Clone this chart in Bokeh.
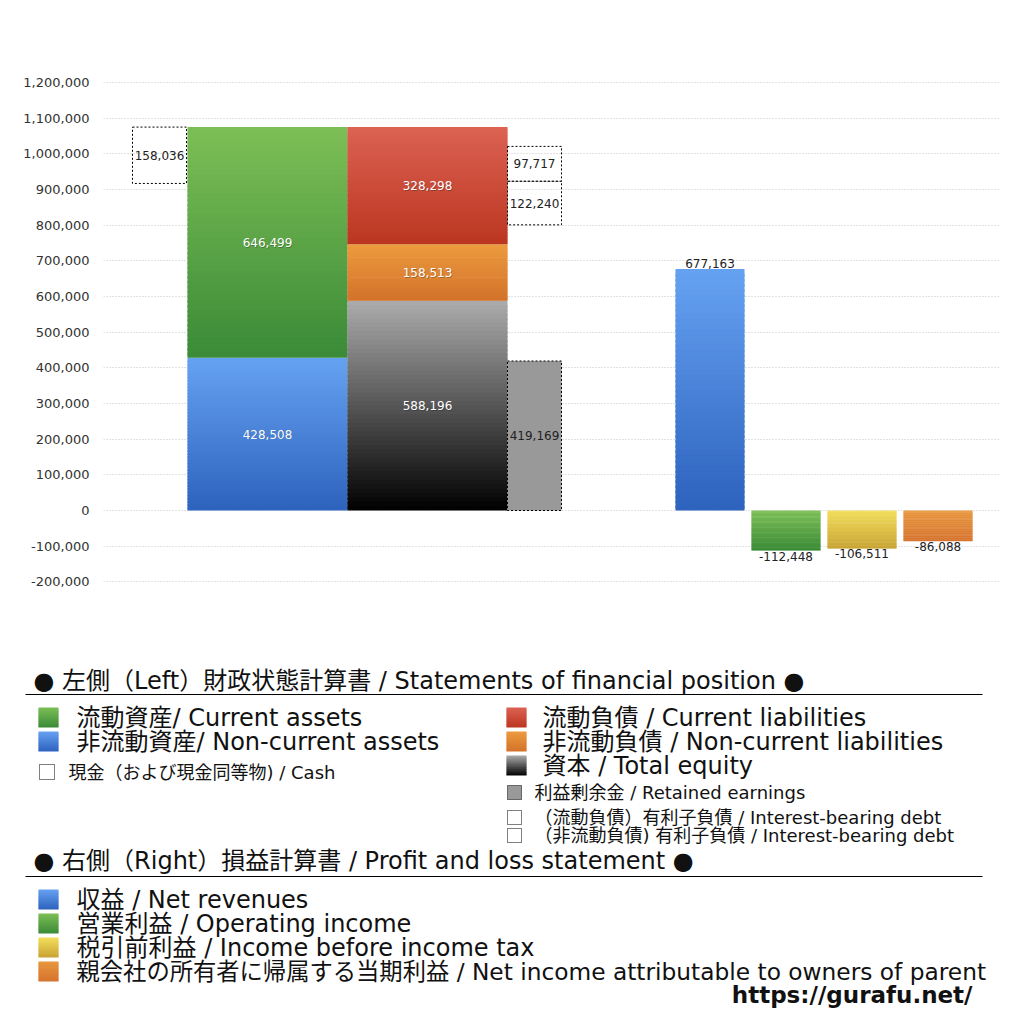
from bokeh.plotting import figure
from bokeh.models import Range1d, FixedTicker, NumeralTickFormatter
from bokeh.layouts import column
from bokeh.core.properties import value
from bokeh.embed import file_html
from bokeh.resources import INLINE

# ---------------- data ----------------
current_assets = 646499
noncurrent_assets = 428508
cash = 158036
current_liabilities = 328298
noncurrent_liabilities = 158513
total_equity = 588196
retained_earnings = 419169
ib_debt_current = 97717
ib_debt_noncurrent = 122240

pl_names = ["収益", "営業利益", "税引前利益", "親会社の所有者に帰属する当期利益"]
pl_values = [677163, -112448, -106511, -86088]

y_ticks = [-200000, -100000, 0, 100000, 200000, 300000, 400000, 500000, 600000,
           700000, 800000, 900000, 1000000, 1100000, 1200000]

header_left = "● 左側（Left）財政状態計算書 / Statements of financial position ●"
header_right = "● 右側（Right）損益計算書 / Profit and loss statement ●"
legend_left_big = ["流動資産/ Current assets", "非流動資産/ Non-current assets"]
legend_cash = "現金（および現金同等物) / Cash"
legend_right_big = ["流動負債 /  Current liabilities", "非流動負債 / Non-current liabilities", "資本 / Total equity"]
legend_re = "利益剰余金 / Retained earnings"
legend_debt = ["（流動負債）有利子負債 / Interest-bearing debt", "（非流動負債) 有利子負債 / Interest-bearing debt"]
legend_pl = ["収益 / Net revenues", "営業利益 / Operating income", "税引前利益 / Income before income tax",
             "親会社の所有者に帰属する当期利益 / Net income attributable to owners of parent"]
url_text = "https://gurafu.net/"

# ---------------- styles ----------------
FONT = "'DejaVu Sans', 'Noto Sans CJK JP'"
C_GREEN = ("#7dbf56", "#3a8a37")
C_BLUE = ("#66a2f2", "#2d62bd")
C_RED = ("#dc6253", "#bb3620")
C_ORANGE = ("#ec9b3f", "#d3722a")
C_GRAY = ("#acacac", "#000000")
C_YELLOW = ("#f3de5c", "#c8a333")
C_ORANGE2 = ("#e8973d", "#d6732e")
RE_FILL = "#999999"


def hex2rgb(h):
    h = h.lstrip("#")
    return tuple(int(h[i:i + 2], 16) for i in (0, 2, 4))


def mix(c1, c2, t):
    a, b = hex2rgb(c1), hex2rgb(c2)
    return "#%02x%02x%02x" % tuple(int(round(a[i] + (b[i] - a[i]) * t)) for i in range(3))


def grad_quad(fig, left, right, y_top, y_bottom, colors, n=48):
    tops, bottoms, cols = [], [], []
    span = y_bottom - y_top
    for i in range(n):
        t0, t1 = i / n, (i + 1) / n
        tops.append(y_top + span * t0)
        bottoms.append(y_top + span * min(1.0, t1 + 0.6 / n))
        cols.append(mix(colors[0], colors[1], (t0 + t1) / 2))
    fig.quad(left=left, right=right, top=tops, bottom=bottoms,
             fill_color=cols, line_color=None)


def set_frame_align(fig):
    try:
        fig.frame_align = False
    except Exception:
        pass


# ---------------- chart ----------------
CH_W, CH_H = 1008, 648
K = 428 / 1200000.0  # px per unit
FRAME_TOP, FRAME_H, ZERO_PX = 60, 540, 450
Y1 = ZERO_PX / K
Y0 = -(FRAME_H - ZERO_PX) / K

p = figure(width=CH_W, height=CH_H, x_range=Range1d(103, 1000), y_range=Range1d(Y0, Y1),
           output_backend="svg", toolbar_location=None,
           min_border_left=103, min_border_right=CH_W - 1000, min_border_top=FRAME_TOP,
           min_border_bottom=CH_H - FRAME_TOP - FRAME_H)
set_frame_align(p)
p.xaxis.visible = False
p.xgrid.visible = False
p.outline_line_color = None
p.background_fill_color = "white"
p.border_fill_color = "white"
p.yaxis.ticker = FixedTicker(ticks=y_ticks)
p.yaxis.formatter = NumeralTickFormatter(format="0,0")
p.yaxis.axis_line_color = None
p.yaxis.major_tick_line_color = None
p.yaxis.minor_tick_line_color = None
p.yaxis.major_tick_out = 0
p.yaxis.major_tick_in = 0
p.yaxis.major_label_standoff = 14
p.yaxis.major_label_text_font = FONT
p.yaxis.major_label_text_font_size = "13px"
p.yaxis.major_label_text_color = "#333333"
p.ygrid.grid_line_color = "#c4c4c4"
p.ygrid.grid_line_dash = "1 2"
p.ygrid.grid_line_width = 1

# column layout (x in screen-like units)
CASH_L, CASH_R = 132, 186
AS_L, AS_R = 187, 347
LI_L, LI_R = 347, 507
SIDE_L, SIDE_R = 507, 561
PL_C0, PL_STEP, PL_W = 709.5, 76, 69

# assets
assets_total = current_assets + noncurrent_assets
grad_quad(p, AS_L, AS_R, noncurrent_assets, 0, C_BLUE)
grad_quad(p, AS_L, AS_R, assets_total, noncurrent_assets, C_GREEN)
p.quad(left=CASH_L, right=CASH_R, top=assets_total, bottom=assets_total - cash,
       fill_color=None, line_color="black", line_dash="2 2", line_width=1)

# liabilities + equity
eq_top = total_equity
ncl_top = eq_top + noncurrent_liabilities
cl_top = ncl_top + current_liabilities
grad_quad(p, LI_L, LI_R, eq_top, 0, C_GRAY)
grad_quad(p, LI_L, LI_R, ncl_top, eq_top, C_ORANGE)
grad_quad(p, LI_L, LI_R, cl_top, ncl_top, C_RED)

# retained earnings box
p.quad(left=SIDE_L, right=SIDE_R, top=retained_earnings, bottom=0,
       fill_color=RE_FILL, line_color="black", line_dash="2 2", line_width=1)

# interest-bearing debt boxes centred in current liabilities segment
debt_total = ib_debt_current + ib_debt_noncurrent
debt_base = ncl_top + (current_liabilities - debt_total) / 2
p.quad(left=SIDE_L, right=SIDE_R, top=debt_base + ib_debt_noncurrent, bottom=debt_base,
       fill_color=None, line_color="black", line_dash="2 2", line_width=1)
p.quad(left=SIDE_L, right=SIDE_R, top=debt_base + debt_total, bottom=debt_base + ib_debt_noncurrent,
       fill_color=None, line_color="black", line_dash="2 2", line_width=1)

# P&L bars
pl_colors = [C_BLUE, C_GREEN, C_YELLOW, C_ORANGE2]
for i, v in enumerate(pl_values):
    c = PL_C0 + i * PL_STEP
    if v >= 0:
        grad_quad(p, c - PL_W / 2, c + PL_W / 2, v, 0, pl_colors[i])
    else:
        grad_quad(p, c - PL_W / 2, c + PL_W / 2, 0, v, pl_colors[i])

# labels inside bars (white with soft shadow)
wx = [(AS_L + AS_R) / 2, (AS_L + AS_R) / 2, (LI_L + LI_R) / 2, (LI_L + LI_R) / 2, (LI_L + LI_R) / 2]
wy = [noncurrent_assets + current_assets / 2, noncurrent_assets / 2,
      ncl_top + current_liabilities / 2, eq_top + noncurrent_liabilities / 2, total_equity / 2]
wt = [f"{v:,}" for v in [current_assets, noncurrent_assets, current_liabilities,
                         noncurrent_liabilities, total_equity]]
p.text(x=wx, y=wy, text=wt, x_offset=0.7, y_offset=0.7, text_color="#222222",
       text_alpha=0.35, text_align="center", text_baseline="middle",
       text_font=value(FONT), text_font_size="12px")
p.text(x=wx, y=wy, text=wt, text_color="white", text_align="center", text_baseline="middle",
       text_font=value(FONT), text_font_size="12px")

# dark labels in dotted boxes
dx = [(CASH_L + CASH_R) / 2, (SIDE_L + SIDE_R) / 2, (SIDE_L + SIDE_R) / 2, (SIDE_L + SIDE_R) / 2]
dy = [assets_total - cash / 2, retained_earnings / 2,
      debt_base + ib_debt_noncurrent + ib_debt_current / 2, debt_base + ib_debt_noncurrent / 2]
dt = [f"{v:,}" for v in [cash, retained_earnings, ib_debt_current, ib_debt_noncurrent]]
p.text(x=dx, y=dy, text=dt, text_color="#222222", text_align="center", text_baseline="middle",
       text_font=value(FONT), text_font_size="12px")

# P&L labels
for i, v in enumerate(pl_values):
    c = PL_C0 + i * PL_STEP
    if v >= 0:
        p.text(x=[c], y=[v], text=[f"{v:,}"], text_color="#222222", text_align="center",
               text_baseline="bottom", y_offset=-1, text_font=value(FONT), text_font_size="12px")
    else:
        p.text(x=[c], y=[v], text=[f"{v:,}"], text_color="#222222", text_align="center",
               text_baseline="top", y_offset=1, text_font=value(FONT), text_font_size="12px")

# ---------------- legend area ----------------
LW, LH = 1008, 360
q = figure(width=LW, height=LH, x_range=Range1d(0, LW), y_range=Range1d(LH, 0),
           output_backend="svg", toolbar_location=None,
           min_border_left=0, min_border_right=0, min_border_top=0, min_border_bottom=0)
set_frame_align(q)
q.xaxis.visible = False
q.yaxis.visible = False
q.grid.visible = False
q.outline_line_color = None
q.background_fill_color = "white"
q.border_fill_color = "white"

BIG = "24px"
SMALL = "18px"


def txt(x, y, s, size, bold=False, align="left"):
    q.text(x=[x], y=[y], text=[s], text_color="#111111", text_align=align, text_baseline="middle",
           text_font=value(FONT), text_font_size=size, text_font_style="bold" if bold else "normal")


# header 1
txt(33, 32, header_left, BIG)
q.segment(x0=[25], y0=[46], x1=[982], y1=[46], line_color="black", line_width=1)

# left column
for i, s in enumerate(legend_left_big):
    y = 69 + 24 * i
    grad_quad(q, 38, 58, y - 10, y + 10, [C_GREEN, C_BLUE][i], n=12)
    txt(76, y, s, BIG)
q.quad(left=39, right=54, top=116, bottom=131, fill_color=None, line_color="black",
       line_dash="1 1", line_width=1)
txt(68, 124, legend_cash, SMALL)

# right column
for i, s in enumerate(legend_right_big):
    y = 69 + 24 * i
    grad_quad(q, 506, 526, y - 10, y + 10, [C_RED, C_ORANGE, C_GRAY][i], n=12)
    txt(542, y, s, BIG)
q.quad(left=507, right=521, top=137, bottom=151, fill_color=RE_FILL, line_color="black",
       line_dash="1 1", line_width=1)
txt(534, 144, legend_re, SMALL)
for i, s in enumerate(legend_debt):
    y = 169 + 18 * i
    q.quad(left=507, right=521, top=y - 7, bottom=y + 7, fill_color=None, line_color="black",
           line_dash="1 1", line_width=1)
    txt(534, y, s, SMALL)

# header 2
txt(33, 212, header_right, BIG)
q.segment(x0=[25], y0=[228], x1=[982], y1=[228], line_color="black", line_width=1)

pl_sizes = [BIG, BIG, BIG, "23.3px"]
for i, s in enumerate(legend_pl):
    y = 251 + 24 * i
    grad_quad(q, 38, 58, y - 10, y + 10, pl_colors[i], n=12)
    txt(76, y, s, pl_sizes[i])

txt(972, 346, url_text, "23px", bold=True, align="right")

layout = column(p, q, spacing=0)
open("out.html", "w").write(file_html(layout, INLINE))
